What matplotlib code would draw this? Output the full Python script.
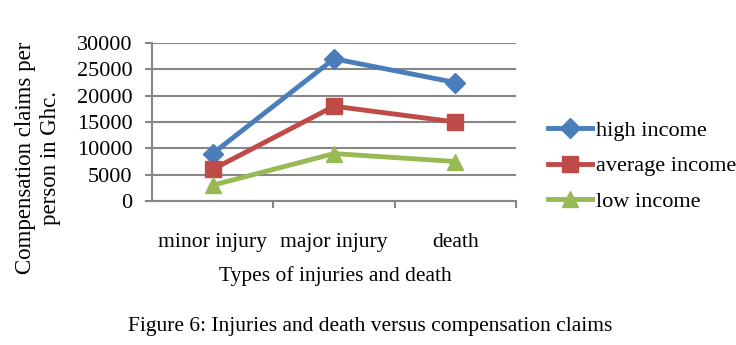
import matplotlib.pyplot as plt

plt.rcParams['font.family'] = ['Liberation Serif', 'DejaVu Serif']

categories = ['minor injury', 'major injury', 'death']
high_income = [9000, 27000, 22500]
average_income = [6000, 18000, 15000]
low_income = [3000, 9000, 7500]
y_ticks = [0, 5000, 10000, 15000, 20000, 25000, 30000]

fig = plt.figure(figsize=(7.36, 3.45), dpi=100)
ax = fig.add_axes([152 / 736, 1 - 201 / 345, 364 / 736, 158 / 345])

x = range(len(categories))
ax.plot(x, high_income, color='#4A7EBB', lw=3.5, marker='D', ms=10, label='high income')
ax.plot(x, average_income, color='#BE4B48', lw=3.5, marker='s', ms=11, label='average income')
ax.plot(x, low_income, color='#98B954', lw=3.5, marker='^', ms=12, label='low income')

ax.set_xlim(-0.5, 2.5)
ax.set_ylim(0, 30000)
ax.set_yticks(y_ticks)
ax.set_yticklabels([str(v) for v in y_ticks], fontsize=16)
ax.set_xticks(list(x))
ax.set_xticklabels(categories, fontsize=15.6)
ax.set_xticks([0.5, 1.5, 2.5], minor=True)
ax.tick_params(axis='x', which='major', length=0, pad=23)
ax.tick_params(axis='x', which='minor', length=5, width=1.5, color='#868686')
ax.tick_params(axis='y', length=5, width=1.5, color='#868686', pad=9)

ax.grid(axis='y', color='#868686', lw=1.5)
ax.set_axisbelow(True)
for s in ['top', 'right']:
    ax.spines[s].set_visible(False)
for s in ['left', 'bottom']:
    ax.spines[s].set_color('#868686')
    ax.spines[s].set_linewidth(1.5)

fig.text(38 / 736, 1 - 158 / 345, 'Compensation claims per\nperson in Ghc.', rotation=90,
         ha='center', va='center', fontsize=16.5, linespacing=1.25)
fig.text(335 / 736, 1 - 276 / 345, 'Types of injuries and death', ha='center', va='center', fontsize=15.5)
fig.text(370 / 736, 1 - 327 / 345, 'Figure 6: Injuries and death versus compensation claims',
         ha='center', va='center', fontsize=15.5)

fig.legend(loc='center left', bbox_to_anchor=(548 / 736, 1 - 166 / 345), frameon=False,
           fontsize=16, handlelength=2.0, handletextpad=0.18, labelspacing=0.68,
           borderpad=0, borderaxespad=0)

fig.savefig('out.png', dpi=100)
